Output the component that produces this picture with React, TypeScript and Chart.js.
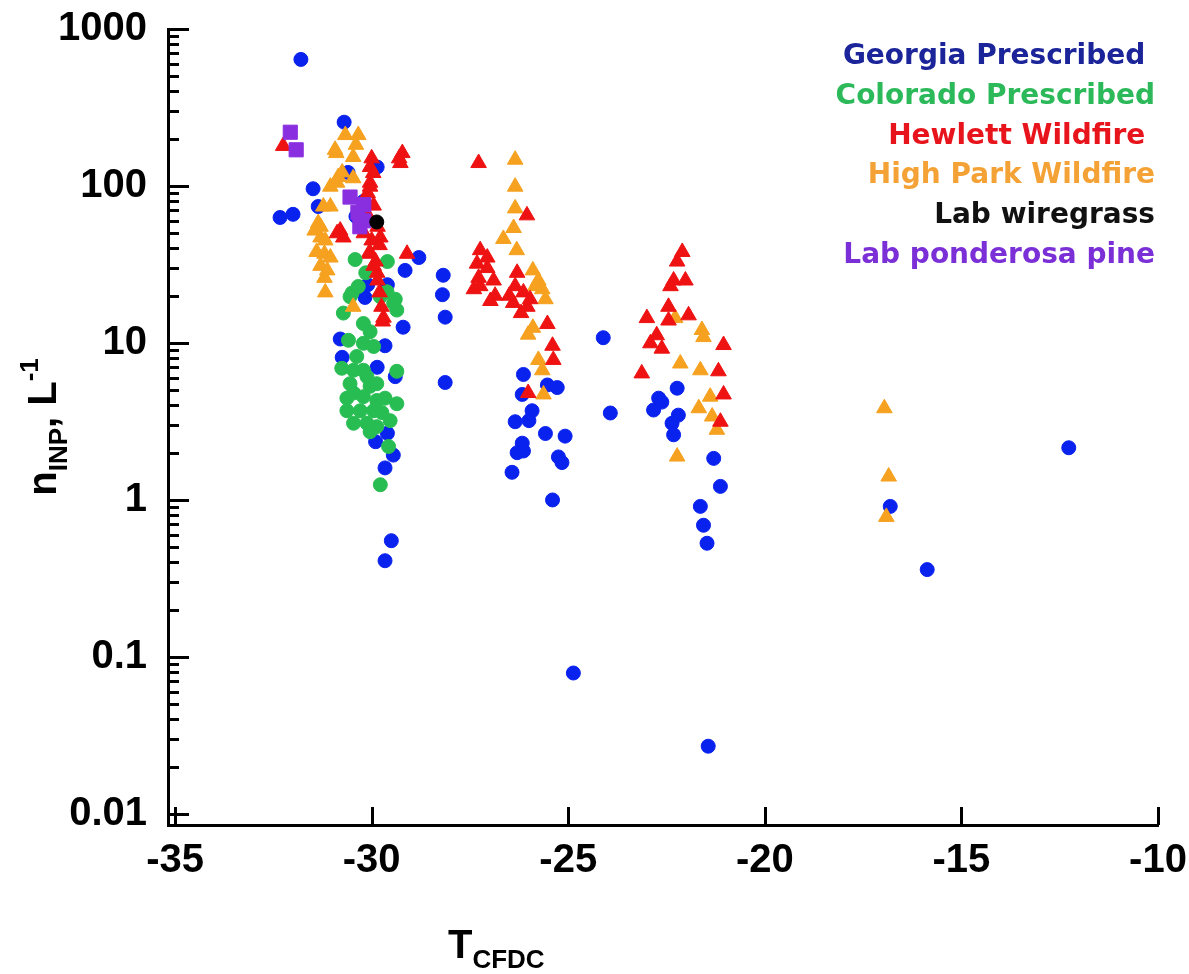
import React, { useEffect, useRef } from 'react';
import { Chart, registerables } from 'chart.js';

Chart.register(...registerables);

// ---------- data ----------
const seriesLabels = [
  'Georgia Prescribed ',
  'Colorado Prescribed',
  'Hewlett Wildfire ',
  'High Park Wildfire',
  'Lab wiregrass',
  'Lab ponderosa pine',
];

const georgiaPrescribed: [number, number][] = [
  [-31.8, 640], [-30.7, 255], [-30.6, 122], [-29.86, 132], [-31.49, 96], [-31.36, 74],
  [-32.33, 63], [-32.0, 66], [-28.8, 35], [-29.15, 29], [-28.18, 27], [-28.2, 20.3],
  [-28.13, 14.6], [-28.13, 5.6], [-29.2, 12.6], [-30.8, 10.6], [-29.66, 9.6], [-30.75, 8.1],
  [-29.86, 7.0], [-29.4, 6.1], [-29.9, 2.35], [-29.6, 2.66], [-29.45, 1.93], [-29.66, 1.6],
  [-29.5, 0.55], [-29.66, 0.41], [-30.1, 23.5], [-29.6, 23.5], [-30.17, 19.5], [-30.2, 80],
  [-30.4, 64],
  [-24.11, 10.8], [-23.93, 3.58], [-26.14, 6.3], [-26.17, 4.7], [-25.53, 5.4], [-25.28, 5.2],
  [-25.92, 3.7], [-26.35, 3.15], [-26.0, 3.2], [-25.58, 2.65], [-25.08, 2.55], [-26.17, 2.3],
  [-26.3, 2.0], [-26.14, 2.05], [-25.25, 1.88], [-25.16, 1.73], [-26.43, 1.5], [-25.4, 1.0],
  [-24.87, 0.079],
  [-22.23, 5.15], [-22.7, 4.45], [-22.62, 4.2], [-22.83, 3.74], [-22.2, 3.47], [-22.36, 3.08],
  [-22.32, 2.6], [-21.3, 1.84], [-21.13, 1.22], [-21.64, 0.91], [-21.56, 0.69], [-21.47, 0.53],
  [-21.44, 0.027],
  [-16.81, 0.91], [-15.87, 0.36], [-12.27, 2.15],
];

const coloradoPrescribed: [number, number][] = [
  [-30.5, 20.8], [-30.34, 22.9], [-30.72, 15.5], [-30.21, 13.3], [-30.04, 11.8], [-30.59, 10.4],
  [-30.21, 9.95], [-29.95, 9.5], [-30.38, 8.2], [-30.76, 6.9], [-30.46, 6.7], [-30.21, 6.7],
  [-29.36, 6.6], [-30.12, 6.1], [-30.55, 5.5], [-30.04, 5.3], [-29.87, 5.5], [-30.46, 4.8],
  [-30.63, 4.45], [-30.21, 4.55], [-29.87, 4.3], [-29.66, 4.45], [-29.36, 4.1], [-30.63, 3.7],
  [-30.29, 3.7], [-29.95, 3.7], [-29.74, 3.6], [-30.46, 3.08], [-30.12, 3.08], [-29.53, 3.2],
  [-29.87, 2.93], [-30.04, 2.72], [-29.57, 2.19], [-29.78, 1.25], [-29.44, 17.9], [-29.78, 19.7],
  [-29.36, 16.2], [-29.61, 21.2], [-30.55, 19.7], [-30.42, 34], [-29.6, 33], [-30.15, 28],
  [-29.4, 19],
];

const hewlettWildfire: [number, number][] = [
  [-32.25, 180], [-29.22, 162], [-29.27, 140], [-29.3, 150], [-30.0, 150], [-30.04, 132],
  [-29.96, 121], [-30.04, 105], [-30.04, 99], [-30.1, 90], [-30.8, 52], [-30.72, 47],
  [-30.88, 50], [-29.78, 47], [-30.04, 37], [-29.1, 37], [-29.86, 28], [-29.95, 75],
  [-30.1, 65], [-29.85, 55], [-30.2, 50], [-30.0, 45], [-29.8, 42], [-30.05, 38],
  [-29.9, 33], [-29.95, 31], [-29.85, 25], [-29.8, 21], [-29.75, 17], [-29.7, 14.5],
  [-29.72, 13.7],
  [-27.28, 140], [-26.05, 65], [-27.24, 39], [-27.32, 32], [-27.06, 30], [-27.28, 26],
  [-26.9, 25], [-27.24, 23], [-26.86, 20], [-26.98, 18.5], [-27.4, 22], [-27.06, 35],
  [-26.3, 28], [-26.35, 23], [-26.14, 21], [-26.4, 18], [-26.04, 17], [-26.2, 15.5],
  [-25.97, 19], [-26.5, 20], [-25.53, 13.2], [-25.4, 9.6], [-25.38, 7.8], [-26.02, 4.8],
  [-22.1, 38], [-22.23, 33], [-22.32, 25], [-22.02, 25], [-22.4, 23], [-22.45, 17],
  [-23.0, 14.4], [-21.94, 15], [-22.45, 13.9], [-22.75, 11.2], [-22.91, 9.95], [-22.62, 9.2],
  [-21.05, 9.7], [-23.13, 6.4], [-21.18, 6.6], [-21.05, 4.7], [-21.13, 3.15],
];

const highParkWildfire: [number, number][] = [
  [-30.67, 211], [-30.34, 211], [-30.4, 183], [-30.9, 162], [-30.47, 153], [-30.85, 114],
  [-30.47, 112], [-31.05, 99], [-31.23, 74], [-31.36, 58], [-31.3, 47], [-31.2, 37],
  [-31.3, 31], [-31.2, 26], [-30.93, 170], [-30.75, 122], [-30.88, 105], [-31.05, 74],
  [-31.3, 55], [-31.18, 45], [-31.05, 35], [-31.13, 29], [-31.18, 21], [-30.47, 17],
  [-31.45, 52], [-31.4, 38],
  [-26.35, 147], [-26.35, 99], [-26.35, 72], [-26.39, 54], [-26.65, 46], [-26.31, 39],
  [-25.9, 29], [-25.76, 25], [-25.66, 22], [-25.58, 19], [-25.84, 23], [-25.9, 12.5],
  [-26.02, 11.3], [-25.76, 7.8], [-25.66, 6.7], [-25.63, 4.7],
  [-21.6, 12.1], [-21.56, 10.9], [-22.15, 7.4], [-21.64, 6.7], [-21.39, 4.55], [-21.68, 3.84],
  [-21.34, 3.4], [-21.22, 2.8], [-22.23, 1.89], [-22.28, 14.4],
  [-16.96, 3.84], [-16.85, 1.41], [-16.91, 0.78],
];

const labWiregrass: [number, number][] = [
  [-29.87, 59],
];

const labPonderosaPine: [number, number][] = [
  [-32.07, 220], [-31.92, 170], [-30.55, 85], [-30.2, 76], [-30.35, 68], [-30.2, 60], [-30.3, 55],
];

const xTickValues = [-35, -30, -25, -20, -15, -10];
const yTickValues = [0.01, 0.1, 1, 10, 100, 1000];
const yTickLabels = ['0.01', '0.1', '1', '10', '100', '1000'];

// ---------- styling ----------
const X_MIN = -35.18;
const X_MAX = -10;
const Y_MIN = 0.0085;
const Y_MAX = 1000;

const axisFamily = '"Liberation Sans", Arial, Helvetica, sans-serif';
const legendFamily = '"DejaVu Sans", Verdana, sans-serif';

const markerColors = ['#0a22ee', '#28bd52', '#ee1212', '#f6a11f', '#000000', '#8a2fe0'];
const legendColors = ['#1b2499', '#2cb95a', '#e8141c', '#f4a235', '#111111', '#7b2fd6'];
const markerStyles = ['circle', 'circle', 'triangle', 'triangle', 'circle', 'rect'];
const markerRadii = [7, 7, 9, 9, 7, 10];
const drawOrder = [6, 5, 3, 4, 1, 2]; // lower = drawn on top

type Part = { text: string; size: number; dy: number };

function drawRich(ctx: CanvasRenderingContext2D, parts: Part[], startX: number) {
  let x = startX;
  for (const p of parts) {
    ctx.font = `bold ${p.size}px ${axisFamily}`;
    ctx.fillText(p.text, x, p.dy);
    x += ctx.measureText(p.text).width;
  }
}

function richWidth(ctx: CanvasRenderingContext2D, parts: Part[]) {
  let w = 0;
  for (const p of parts) {
    ctx.font = `bold ${p.size}px ${axisFamily}`;
    w += ctx.measureText(p.text).width;
  }
  return w;
}

const decorPlugin = {
  id: 'decor',
  afterDraw(chart: any) {
    const { ctx, chartArea, scales } = chart;
    const xs = scales.x;
    const ys = scales.y;
    ctx.save();
    ctx.strokeStyle = '#000';
    ctx.lineCap = 'butt';

    // inward y ticks (major + minor)
    for (let e = -2; e <= 3; e++) {
      for (let k = 1; k <= 9; k++) {
        const v = k * Math.pow(10, e);
        if (v < 0.01 * 0.999 || v > 1000 * 1.001) continue;
        const py = Math.round(ys.getPixelForValue(v)) + 0.5;
        const len = k === 1 ? 21 : 11;
        ctx.lineWidth = 3;
        ctx.beginPath();
        ctx.moveTo(chartArea.left, py);
        ctx.lineTo(chartArea.left + len, py);
        ctx.stroke();
      }
    }
    // inward x ticks
    for (const v of xTickValues) {
      const px = Math.round(xs.getPixelForValue(v)) + 0.5;
      ctx.lineWidth = 3;
      ctx.beginPath();
      ctx.moveTo(px, chartArea.bottom);
      ctx.lineTo(px, chartArea.bottom - 18);
      ctx.stroke();
    }

    // legend (text only)
    ctx.textAlign = 'right';
    ctx.textBaseline = 'alphabetic';
    ctx.font = `bold 28px ${legendFamily}`;
    chart.data.datasets.forEach((ds: any, i: number) => {
      ctx.fillStyle = legendColors[i];
      ctx.fillText(ds.label, 1155, 64 + i * 39.8);
    });

    // axis titles
    ctx.fillStyle = '#000';
    ctx.textAlign = 'left';
    ctx.textBaseline = 'alphabetic';

    const xParts: Part[] = [
      { text: 'T', size: 40, dy: 0 },
      { text: 'CFDC', size: 26, dy: 10 },
    ];
    ctx.save();
    ctx.translate(0, 958);
    drawRich(ctx, xParts, 448);
    ctx.restore();

    const yParts: Part[] = [
      { text: 'n', size: 40, dy: 0 },
      { text: 'INP', size: 26, dy: 11 },
      { text: ', L', size: 40, dy: 0 },
      { text: '-1', size: 26, dy: -18 },
    ];
    ctx.save();
    ctx.translate(56, (chartArea.top + chartArea.bottom) / 2);
    ctx.rotate(-Math.PI / 2);
    const w = richWidth(ctx, yParts);
    drawRich(ctx, yParts, -w / 2);
    ctx.restore();

    ctx.restore();
  },
};

const allSeries = [
  georgiaPrescribed,
  coloradoPrescribed,
  hewlettWildfire,
  highParkWildfire,
  labWiregrass,
  labPonderosaPine,
];

export default function App() {
  const canvasRef = useRef<HTMLCanvasElement | null>(null);

  useEffect(() => {
    const canvas = canvasRef.current;
    if (!canvas) return;
    const chart = new Chart(canvas, {
      type: 'scatter',
      data: {
        datasets: allSeries.map((pts, i) => ({
          label: seriesLabels[i],
          data: pts.map(([x, y]) => ({ x, y })),
          pointStyle: markerStyles[i] as any,
          pointRadius: markerRadii[i],
          pointHoverRadius: markerRadii[i],
          backgroundColor: markerColors[i],
          borderColor: markerColors[i],
          borderWidth: 1,
          order: drawOrder[i],
        })),
      },
      options: {
        responsive: false,
        animation: false,
        devicePixelRatio: 1,
        layout: { padding: { top: 29, right: 31, left: 0, bottom: 0 } },
        plugins: {
          legend: { display: false },
          tooltip: { enabled: false },
        },
        scales: {
          x: {
            type: 'linear',
            min: X_MIN,
            max: X_MAX,
            grid: { display: false, drawTicks: false },
            border: { display: true, color: '#000', width: 3 },
            afterBuildTicks: (s: any) => {
              s.ticks = xTickValues.map((v) => ({ value: v }));
            },
            afterFit: (s: any) => {
              s.height = 149;
              s.paddingLeft = 0;
              s.paddingRight = 0;
              s.paddingTop = 0;
              s.paddingBottom = 0;
            },
            ticks: {
              autoSkip: false,
              maxRotation: 0,
              padding: 12,
              color: '#000',
              font: { family: axisFamily, size: 40, weight: 'bold' },
              callback: (v: any) => String(v),
            },
          },
          y: {
            type: 'logarithmic',
            min: Y_MIN,
            max: Y_MAX,
            grid: { display: false, drawTicks: false },
            border: { display: true, color: '#000', width: 3 },
            afterBuildTicks: (s: any) => {
              s.ticks = yTickValues.map((v) => ({ value: v }));
            },
            afterFit: (s: any) => {
              s.width = 168;
              s.paddingLeft = 0;
              s.paddingRight = 0;
              s.paddingTop = 0;
              s.paddingBottom = 0;
            },
            ticks: {
              autoSkip: false,
              padding: 21,
              color: '#000',
              font: { family: axisFamily, size: 40, weight: 'bold' },
              callback: (v: any) => {
                const idx = yTickValues.findIndex((t) => Math.abs(t - v) / t < 1e-6);
                return idx >= 0 ? yTickLabels[idx] : '';
              },
            },
          },
        },
      },
      plugins: [decorPlugin],
    });
    return () => chart.destroy();
  }, []);

  return (
    <div style={{ position: 'absolute', left: 0, top: 0, width: 1189, height: 974, background: '#fff' }}>
      <canvas ref={canvasRef} width={1189} height={974} style={{ display: 'block' }} />
    </div>
  );
}
